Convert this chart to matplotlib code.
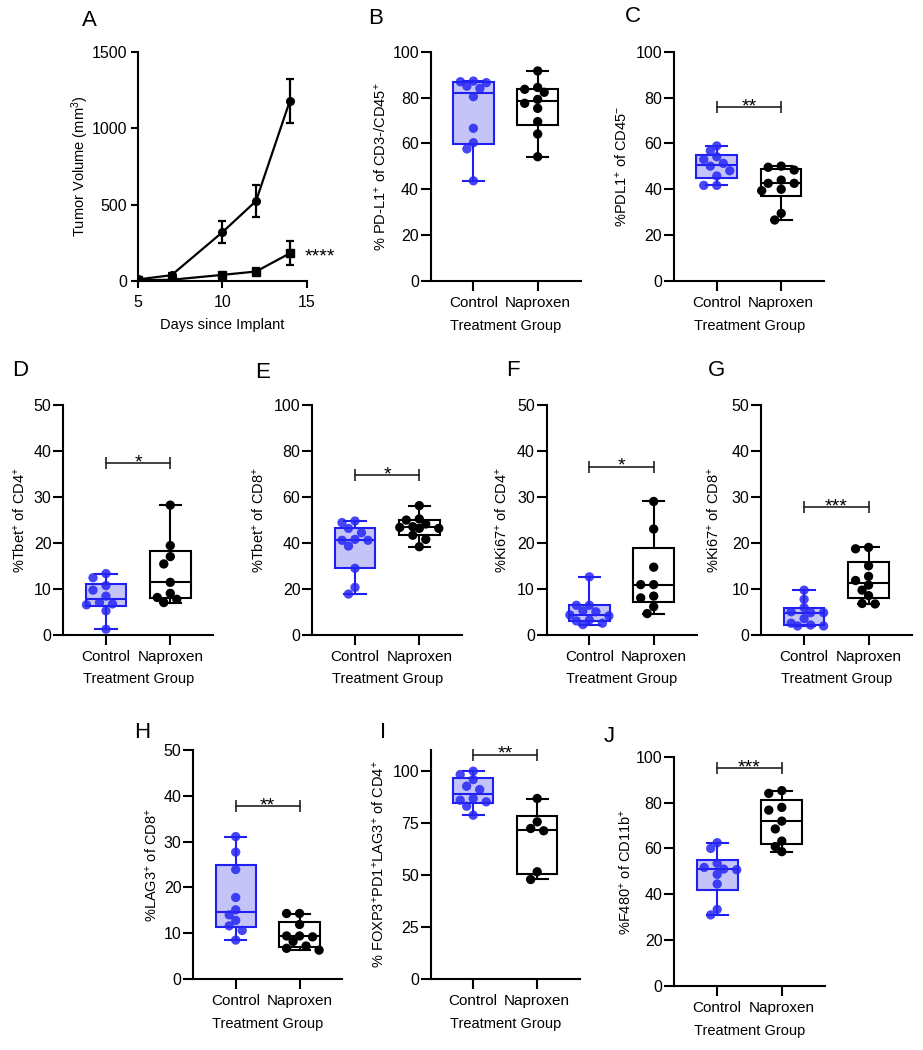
import numpy as np
import matplotlib
matplotlib.use("Agg")
import matplotlib.pyplot as plt

plt.rcParams['font.family'] = ['Liberation Sans', 'DejaVu Sans']
plt.rcParams['mathtext.default'] = 'regular'

# ---------------- data ----------------
groups = ["Control", "Naproxen"]

days = [5, 7, 10, 12, 14]
tumor_control = [10, 38, 318, 523, 1177]
tumor_control_sem = [4, 14, 72, 102, 142]
tumor_naproxen = [5, 8, 40, 62, 181]
tumor_naproxen_sem = [3, 6, 10, 22, 78]

B_control = [86.9, 85.0, 87.2, 84.0, 86.5, 80.4, 66.6, 60.3, 57.6, 43.7]
B_naproxen = [91.6, 84.4, 83.6, 82.3, 79.2, 77.5, 75.3, 69.5, 64.1, 54.2]
C_control = [58.9, 56.8, 53.0, 54.2, 51.3, 50.1, 48.1, 45.8, 41.7, 41.7]
C_naproxen = [50.1, 49.6, 48.4, 42.6, 44.0, 42.6, 39.4, 40.0, 29.5, 26.6]
D_control = [13.3, 12.4, 10.7, 9.7, 8.4, 7.0, 6.7, 6.5, 5.2, 1.2]
D_naproxen = [28.2, 19.4, 17.0, 15.4, 11.4, 9.0, 8.1, 7.7, 7.0]
E_control = [49.5, 48.8, 46.3, 44.4, 41.1, 41.1, 41.5, 38.6, 28.9, 20.6, 17.7]
E_naproxen = [56.2, 50.4, 49.9, 48.2, 47.0, 46.7, 46.3, 46.3, 43.3, 41.5, 38.3]
F_control = [12.6, 6.4, 6.4, 5.2, 5.0, 4.3, 4.1, 3.2, 3.0, 2.5, 2.2]
F_naproxen = [29.0, 23.0, 14.7, 10.9, 10.9, 8.4, 8.0, 6.1, 4.6]
G_control = [9.7, 7.7, 5.9, 5.0, 4.8, 4.8, 3.5, 2.5, 2.1, 1.9, 1.9]
G_naproxen = [19.0, 18.7, 15.0, 12.7, 11.8, 10.8, 9.7, 8.5, 6.8, 6.7]
H_control = [31.1, 27.7, 23.9, 17.8, 15.1, 14.0, 12.8, 11.6, 10.6, 8.5]
H_naproxen = [14.3, 14.3, 11.9, 9.4, 9.4, 9.2, 8.2, 7.2, 6.7, 6.3]
I_control = [99.8, 98.2, 95.8, 92.6, 91.0, 86.7, 85.9, 85.1, 83.0, 78.7]
I_naproxen = [86.7, 75.5, 72.3, 71.2, 51.5, 47.8]
J_control = [62.5, 60.0, 53.5, 51.7, 51.0, 50.7, 48.7, 44.5, 33.4, 31.0]
J_naproxen = [85.2, 84.0, 77.9, 76.7, 71.9, 68.5, 63.2, 60.8, 58.6]

significance = {"C": ("**", 75.7), "D": ("*", 37.4), "E": ("*", 69.5),
                "F": ("*", 36.6), "G": ("***", 27.8), "H": ("**", 37.8),
                "I": ("**", 107.8), "J": ("***", 94.9)}
tumor_significance = "****"

# ---------------- style ----------------
W, H = 923, 1050
fig = plt.figure(figsize=(W / 100, H / 100), dpi=100)

BLUE = '#1f1ff2'
BLUE_FILL = '#c4c4f8'
BLUE_PT = '#2626f5'
BLACK = 'black'
LW = 1.5
TICKFS = 11.5
XTICKFS = 11
LABFS = 10.5
LETTERFS = 16
STARFS = 14


def add_ax(l, t, r, b):
    return fig.add_axes([l / W, 1 - b / H, (r - l) / W, (b - t) / H])


def style_axes(ax, ticklen=7):
    for s in ['top', 'right']:
        ax.spines[s].set_visible(False)
    for s in ['left', 'bottom']:
        ax.spines[s].set_linewidth(LW)
    ax.tick_params(width=LW, length=ticklen, labelsize=TICKFS, direction='out')


def prism_stats(vals):
    v = np.asarray(vals, float)
    q1, med, q3 = np.percentile(v, [25, 50, 75], method='weibull')
    return dict(med=med, q1=q1, q3=q3, whislo=v.min(), whishi=v.max(), fliers=[])


def swarm(ax, x0, vals, dmin=8.0, step=6.5, kmax=3):
    v = np.asarray(vals, float)
    pts = ax.transData.transform(np.column_stack([np.full(len(v), x0), v]))
    ys = pts[:, 1]
    pxu = (ax.transData.transform((1, 0))[0] - ax.transData.transform((0, 0))[0])
    order = np.argsort(-v, kind='stable')
    cands = [0]
    for k in range(1, kmax + 1):
        cands += [-k, k]
    placed = []
    offs = np.zeros(len(v))
    for i in order:
        best, bestd = 0.0, -1.0
        for k in cands:
            dx = k * step
            d = min([np.hypot(dx - px, ys[i] - py) for px, py in placed] or [1e9])
            if d >= dmin:
                best = dx
                break
            if d > bestd + 1e-9:
                best, bestd = dx, d
        placed.append((best, ys[i]))
        offs[i] = best / pxu
    return x0 + offs


def add_sig(ax, star, sy, x0=0, x1=1):
    ax.plot([x0, x1], [sy, sy], color='#222222', lw=1.2, marker='|',
            markersize=8, markeredgewidth=1.2, zorder=4, clip_on=False)
    ax.annotate(star, ((x0 + x1) / 2, sy), xytext=(0, -3), textcoords='offset points',
                ha='center', va='baseline', fontsize=STARFS)


def box_panel(box, ylim, yticks, ylabel, ctrl, napx, letter, letter_xy,
              ylab_dx, sig=None):
    l, t, r, b = box
    ax = add_ax(l, t, r, b)
    style_axes(ax)
    ax.set_xlim(-0.664, 1.669)
    ax.set_ylim(*ylim)
    ax.set_yticks(yticks)
    ax.tick_params(axis='y', pad=1.5)
    ax.tick_params(axis='x', pad=4, labelsize=XTICKFS)
    ax.set_xticks([0, 1])
    ax.set_xticklabels(groups)
    specs = [(0, ctrl, BLUE, BLUE_FILL, BLUE_PT, 0.85), (1, napx, BLACK, 'white', BLACK, 1.0)]
    for pos, vals, ec, fc, pc, al in specs:
        ax.bxp([prism_stats(vals)], positions=[pos], widths=0.63, capwidths=0.33,
               patch_artist=True, showfliers=False, manage_ticks=False,
               boxprops=dict(facecolor=fc, edgecolor=ec, linewidth=LW),
               medianprops=dict(color=ec, linewidth=LW),
               whiskerprops=dict(color=ec, linewidth=LW),
               capprops=dict(color=ec, linewidth=LW), zorder=2)
        xs = swarm(ax, pos, vals)
        ax.scatter(xs, vals, s=45, color=pc, alpha=al, edgecolors='none',
                   zorder=3, clip_on=False)
    if sig is not None:
        add_sig(ax, *sig)
    ax.set_xlabel('Treatment Group', fontsize=LABFS, labelpad=6)
    ax.set_ylabel(ylabel, fontsize=LABFS)
    ax.yaxis.set_label_coords(ylab_dx / (r - l), 0.5)
    fig.text(letter_xy[0] / W, 1 - letter_xy[1] / H, letter, fontsize=LETTERFS,
             ha='center', va='center')
    return ax


# ---------------- panel A ----------------
axA = add_ax(137.7, 51.7, 306.7, 281)
style_axes(axA, ticklen=5)
axA.errorbar(days, tumor_control, yerr=tumor_control_sem, color='black', lw=1.6,
             marker='o', markersize=5.5, capsize=2.6, elinewidth=1.6, capthick=1.6)
axA.errorbar(days, tumor_naproxen, yerr=tumor_naproxen_sem, color='black', lw=1.6,
             marker='s', markersize=5.5, capsize=2.6, elinewidth=1.6, capthick=1.6)
axA.set_xlim(5, 15)
axA.set_ylim(0, 1500)
axA.set_xticks([5, 10, 15])
axA.set_yticks([0, 500, 1000, 1500])
axA.tick_params(axis='y', pad=2.5)
axA.tick_params(axis='x', pad=5)
axA.annotate(tumor_significance, (days[-1], tumor_naproxen[-1]), xytext=(11, -5.5),
             textcoords='offset points', ha='left', va='baseline', fontsize=STARFS,
             annotation_clip=False)
axA.set_xlabel('Days since Implant', fontsize=LABFS, labelpad=6)
axA.set_ylabel('Tumor Volume (mm$^{3}$)', fontsize=LABFS)
axA.yaxis.set_label_coords(-47 / 169.0, 0.5)
fig.text(89 / W, 1 - 21 / H, 'A', fontsize=LETTERFS, ha='center', va='center')

# ---------------- box panels ----------------
box_panel((430.7, 51.7, 580.7, 281), (0, 100), range(0, 101, 20),
          '% PD-L1$^{+}$ of CD3-/CD45$^{+}$', B_control, B_naproxen, 'B', (376, 19), -42)
box_panel((674, 51.7, 824.3, 281), (0, 100), range(0, 101, 20),
          '%PDL1$^{+}$ of CD45$^{-}$', C_control, C_naproxen, 'C', (633, 17), -44,
          sig=significance["C"])
box_panel((63.3, 405, 213.3, 634.7), (0, 50), range(0, 51, 10),
          '%Tbet$^{+}$ of CD4$^{+}$', D_control, D_naproxen, 'D', (20, 371), -36,
          sig=significance["D"])
box_panel((312.3, 405, 462.3, 634.7), (0, 100), range(0, 101, 20),
          '%Tbet$^{+}$ of CD8$^{+}$', E_control, E_naproxen, 'E', (263, 372), -46,
          sig=significance["E"])
box_panel((546.7, 405, 696.7, 634.7), (0, 50), range(0, 51, 10),
          '%Ki67$^{+}$ of CD4$^{+}$', F_control, F_naproxen, 'F', (512.5, 371), -37,
          sig=significance["F"])
box_panel((761.3, 405, 911.7, 634.7), (0, 50), range(0, 51, 10),
          '%Ki67$^{+}$ of CD8$^{+}$', G_control, G_naproxen, 'G', (716.5, 371), -40,
          sig=significance["G"])
box_panel((193.3, 750, 342.3, 979), (0, 50), range(0, 51, 10),
          '%LAG3$^{+}$ of CD8$^{+}$', H_control, H_naproxen, 'H', (142, 732.5), -34,
          sig=significance["H"])
box_panel((430.7, 750, 580, 979), (0, 110), range(0, 101, 25),
          '% FOXP3$^{+}$PD1$^{+}$LAG3$^{+}$ of CD4$^{+}$', I_control, I_naproxen, 'I',
          (383, 733), -44, sig=significance["I"])
box_panel((674.3, 756.7, 825, 986), (0, 100), range(0, 101, 20),
          '%F480$^{+}$ of CD11b$^{+}$', J_control, J_naproxen, 'J', (609.5, 736), -41,
          sig=significance["J"])

fig.savefig('out.png', dpi=100)
